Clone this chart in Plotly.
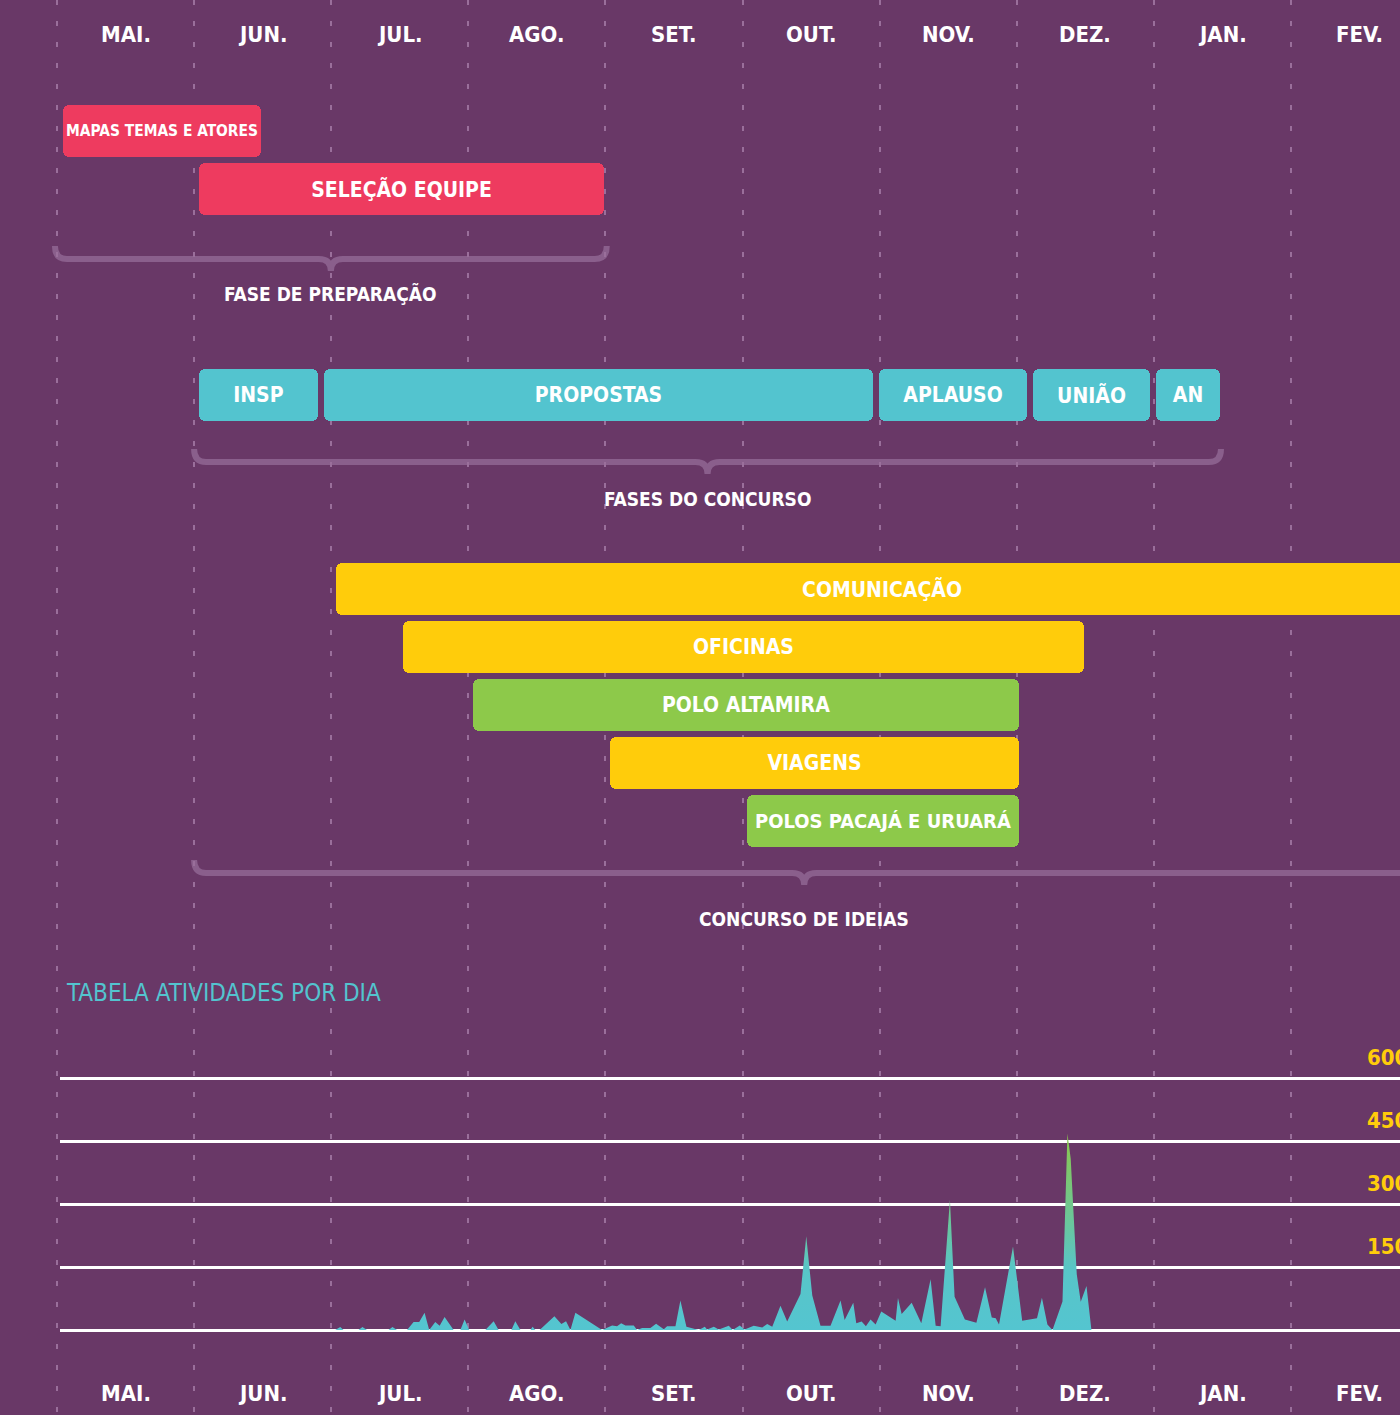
import plotly.graph_objects as go

# ---------------- DATA ----------------
meses = ["MAI.", "JUN.", "JUL.", "AGO.", "SET.", "OUT.", "NOV.", "DEZ.", "JAN.", "FEV."]

# timeline activities (positions in months since 1 May; equal-width months)
atividades = ["MAPAS TEMAS E ATORES", "SELEÇÃO EQUIPE",
              "INSP", "PROPOSTAS", "APLAUSO", "UNIÃO", "AN",
              "COMUNICAÇÃO", "OFICINAS", "POLO ALTAMIRA", "VIAGENS", "POLOS PACAJÁ E URUARÁ"]
inicio = [0.044, 1.036, 1.036, 1.949, 5.993, 7.117, 8.015, 2.036, 2.526, 3.036, 4.036, 5.036]
fim = [1.489, 3.993, 1.905, 5.949, 7.073, 7.971, 8.482, 10.0, 7.489, 7.015, 7.015, 7.015]
tipo = ["prep", "prep", "conc", "conc", "conc", "conc", "conc",
        "amarelo", "amarelo", "verde", "amarelo", "verde"]

fases = ["FASE DE PREPARAÇÃO", "FASES DO CONCURSO", "CONCURSO DE IDEIAS"]
fase_inicio = [-0.015, 1.0, 1.0]
fase_fim = [4.01, 8.49, 9.9]

# daily activity series
pos_dia = [2.029, 2.066, 2.090, 2.199, 2.228, 2.261, 2.418, 2.447, 2.480, 2.553, 2.601, 2.642,
           2.681, 2.715, 2.759, 2.791, 2.827, 2.893, 2.942, 2.973, 3.007, 3.124, 3.185, 3.221,
           3.314, 3.343, 3.380, 3.453, 3.469, 3.489, 3.520, 3.628, 3.679, 3.713, 3.745, 3.781,
           3.976, 4.049, 4.085, 4.115, 4.146, 4.207, 4.231, 4.268, 4.328, 4.370, 4.426, 4.450,
           4.511, 4.547, 4.591, 4.681, 4.725, 4.742, 4.791, 4.827, 4.900, 4.929, 4.980, 5.015,
           5.082, 5.144, 5.180, 5.217, 5.277, 5.326, 5.423, 5.465, 5.509, 5.569, 5.642, 5.715,
           5.745, 5.808, 5.830, 5.869, 5.900, 5.934, 5.971, 6.012, 6.117, 6.134, 6.161, 6.234,
           6.304, 6.372, 6.409, 6.445, 6.513, 6.547, 6.622, 6.706, 6.769, 6.818, 6.847, 6.871,
           6.973, 7.040, 7.148, 7.184, 7.224, 7.261, 7.334, 7.370, 7.394, 7.438, 7.467, 7.509,
           7.545]
atividades_dia = [0, 7, 0, 0, 7, 0, 0, 7, 0, 0, 19, 19,
                  41, 0, 19, 10, 31, 0, 0, 25, 0, 0, 21, 0,
                  0, 21, 0, 0, 8, 0, 0, 33, 14, 21, 0, 41,
                  0, 11, 9, 16, 11, 11, 0, 5, 5, 15, 2, 9,
                  9, 70, 8, 0, 8, 1, 8, 1, 10, 0, 11, 1,
                  10, 6, 14, 8, 58, 20, 86, 223, 82, 10, 10, 70,
                  24, 65, 16, 20, 9, 25, 13, 44, 22, 76, 38, 65,
                  16, 121, 10, 9, 310, 79, 25, 17, 102, 30, 28, 13,
                  199, 22, 28, 77, 13, 0, 68, 468, 408, 133, 67, 105,
                  0]
escala = [0, 150, 300, 450, 600]

# ---------------- STYLE / LAYOUT ----------------
W, H = 1400, 1415
BG = "#693867"
X0_PX, MES_PX = 57.0, 137.1          # pixel of 1 May, pixels per month
cores = {"prep": "#EE3B5F", "conc": "#53C4CF", "amarelo": "#FFCC0B", "verde": "#8DC94A"}
linha_px = [131, 189, 395, 395, 395, 395, 395, 589, 647, 705, 763, 821]   # row centres (px)
tam_txt = [16, 21, 21, 21, 21, 21, 21, 21, 21, 21, 21, 20]
chave_y = [259, 462, 873]      # brace horizontal line (px)
chave_lbl = [293, 499, 919]    # brace label (px)
FONT = "DejaVu Sans Condensed, Roboto, Noto Sans, sans-serif"
BRACE = "#8A5F8C"


def m2x(px):
    return (px - X0_PX) / MES_PX


fig = go.Figure()

# gantt bars
fig.add_trace(go.Bar(
    orientation="h",
    base=inicio,
    x=[f - i for i, f in zip(inicio, fim)],
    y=linha_px,
    width=52,
    marker=dict(color=[cores[t] for t in tipo], cornerradius=6, line=dict(width=0)),
    text=atividades,
    textposition="inside",
    insidetextanchor="middle",
    textangle=0,
    textfont=dict(family=FONT, color="white", size=tam_txt, weight="bold"),
    hoverinfo="skip",
    xaxis="x", yaxis="y",
    showlegend=False,
))

# activity area chart
fig.add_trace(go.Scatter(
    x=pos_dia, y=atividades_dia,
    mode="lines", line=dict(width=0, color="#54C5D0"),
    fill="tozeroy",
    fillgradient=dict(type="vertical",
                      colorscale=[[0, "#54C5D0"], [0.3, "#58C5C8"], [1, "#8CC84B"]],
                      start=0, stop=470),
    xaxis="x2", yaxis="y2", showlegend=False, hoverinfo="skip",
))

# braces
shapes = []
annotations = []
r = 12.0
for nome, a, b, ym, ly in zip(fases, fase_inicio, fase_fim, chave_y, chave_lbl):
    rm = r / MES_PX
    xt = (a + b) / 2
    yt, yb = ym - 13, ym + 12
    path = (f"M {a},{yt} Q {a},{ym} {a + rm},{ym} L {xt - rm},{ym} "
            f"Q {xt},{ym} {xt},{yb} Q {xt},{ym} {xt + rm},{ym} "
            f"L {b - rm},{ym} Q {b},{ym} {b},{yt}")
    shapes.append(dict(type="path", path=path, xref="x", yref="y",
                       line=dict(color=BRACE, width=6), layer="below"))
    annotations.append(dict(x=xt, y=ly, xref="x", yref="y", text=nome, showarrow=False,
                            font=dict(family=FONT, size=19, color="white", weight="bold")))

# month labels top & bottom
for i, m in enumerate(meses):
    for yy in (34, 1393):
        annotations.append(dict(x=i + 0.5, y=yy, xref="x", yref="y", text=m, showarrow=False,
                                font=dict(family=FONT, size=22, color="white", weight="bold")))

# area chart title
annotations.append(dict(x=m2x(64), y=993, xref="x", yref="y", xanchor="left",
                        text="TABELA ATIVIDADES POR DIA", showarrow=False,
                        font=dict(family=FONT, size=24, color="#53C4CF")))

# value labels (right, partially cut as in the original)
for v in escala[1:]:
    annotations.append(dict(x=1410 / W, y=v, xref="paper", yref="y2", xanchor="right",
                            yanchor="middle", yshift=21, text=str(v), showarrow=False,
                            font=dict(family=FONT, size=22, color="#FFCC0B", weight="bold")))

# axes geometry for the area chart (pixel based)
Y0_PX, UNIT_PX = 1330.0, 63.0 / 150.0
lo, hi = -8, 608
dom_lo = (H - (Y0_PX - lo * UNIT_PX)) / H
dom_hi = (H - (Y0_PX - hi * UNIT_PX)) / H

fig.update_layout(
    width=W, height=H,
    margin=dict(l=0, r=0, t=0, b=0),
    paper_bgcolor=BG, plot_bgcolor="rgba(0,0,0,0)",
    bargap=0,
    xaxis=dict(range=[m2x(0), m2x(W)], domain=[0, 1], tickmode="array",
               tickvals=list(range(len(meses) + 1)), showticklabels=False, ticks="",
               showgrid=True, gridcolor="#9A6F9B", gridwidth=2, griddash="5px,16px",
               zeroline=False, showline=False, fixedrange=True),
    yaxis=dict(range=[H, 0], domain=[0, 1], visible=False, showgrid=False, zeroline=False),
    xaxis2=dict(range=[m2x(60), m2x(W)], domain=[60 / W, 1], anchor="y2",
                visible=False, showgrid=False, zeroline=False),
    yaxis2=dict(range=[lo, hi], domain=[dom_lo, dom_hi], anchor="x2",
                tickmode="array", tickvals=escala, showticklabels=False, ticks="",
                showgrid=True, gridcolor="#FFFFFF", gridwidth=2.5, zeroline=False,
                showline=False),
    shapes=shapes,
    annotations=annotations,
    showlegend=False,
)

fig.write_html("out.html", config={"displayModeBar": False},
               post_script="document.body.style.margin='0';document.body.style.background='" + BG + "';")
